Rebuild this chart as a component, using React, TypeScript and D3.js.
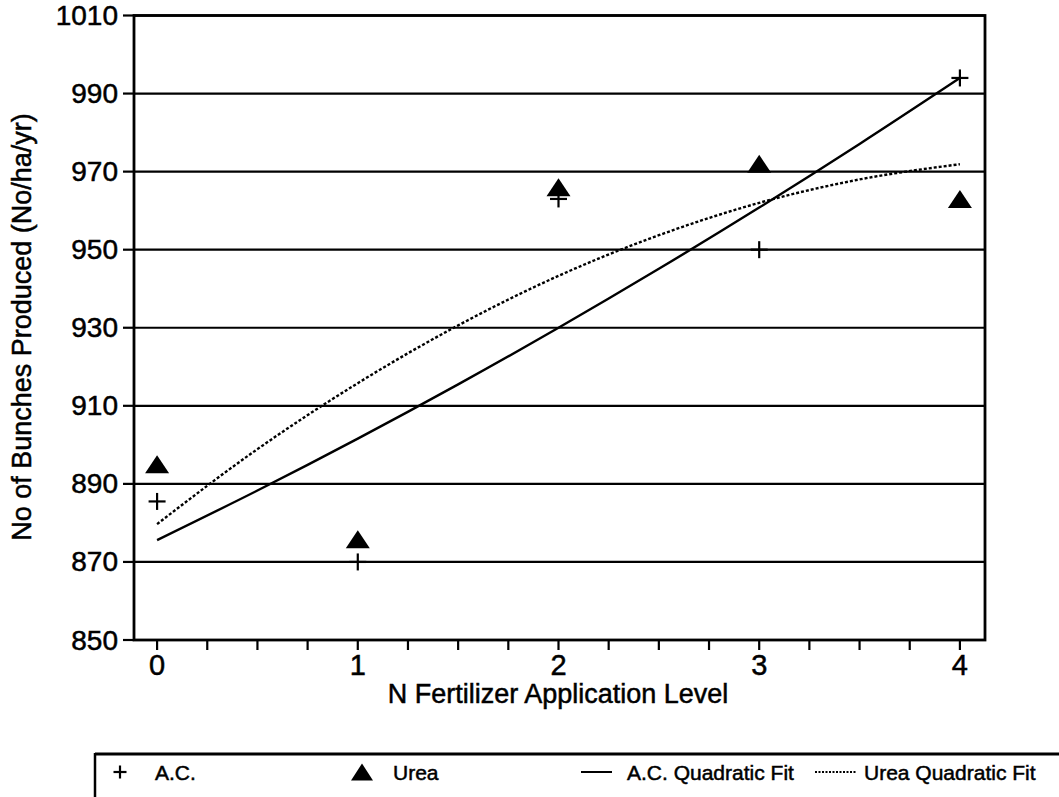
import * as d3 from "d3";

// N fertilizer application level
const levels = [0, 1, 2, 3, 4];
// observed bunches produced (No/ha/yr)
const acValues = [885.5, 870, 963, 950, 994];
const ureaValues = [895, 875.8, 966, 972, 963];

// fitted curves at half-level steps
const fitLevels = [0, 0.5, 1, 1.5, 2, 2.5, 3, 3.5, 4];
const acFit = [875.6, 888.3, 901.6, 915.5, 930, 945.1, 960.8, 977.1, 994];
const ureaFit = [879.7, 898.9, 915.8, 930.6, 943.3, 953.7, 962, 968, 971.9];

const yTicks = [850, 870, 890, 910, 930, 950, 970, 990, 1010];
const xTicks = [0, 1, 2, 3, 4];
const xMinorTicks = d3.range(0, 4.01, 0.25);

const legendItems = ["A.C.", "Urea", "A.C. Quadratic Fit", "Urea Quadratic Fit"];

export default function App() {
  const width = 1059;
  const height = 797;
  const left = 134;
  const right = 985;
  const top = 15.5;
  const bottom = 640;

  const x = d3.scaleLinear().domain([-0.115, 4.125]).range([left, right]);
  const y = d3.scaleLinear().domain([850, 1010]).range([bottom, top]);

  const line = d3
    .line<number>()
    .x((_, i) => x(fitLevels[i]))
    .y((d) => y(d))
    .curve(d3.curveMonotoneX);

  const sans = { fontFamily: "Liberation Sans, Arial, Helvetica, sans-serif" };

  const label = (
    key: string,
    tx: number,
    ty: number,
    size: number,
    text: string | number,
    anchor: "start" | "middle" | "end" = "start",
    rotate = 0
  ) => (
    <text
      key={key}
      transform={`translate(${tx},${ty}) rotate(${rotate})`}
      textAnchor={anchor}
      dominantBaseline="central"
      style={sans}
      fontSize={size}
      fill="#000"
      stroke="#000"
      strokeWidth={0.5}
    >
      {text}
    </text>
  );

  const tri = (cx: number, cy: number, w = 24, h = 18) =>
    `M${cx - w / 2},${cy + h / 2}L${cx},${cy - h / 2}L${cx + w / 2},${cy + h / 2}Z`;

  const plus = (cx: number, cy: number, s = 8.5) => (
    <g stroke="#000" strokeWidth={2.2}>
      <line x1={cx - s} x2={cx + s} y1={cy} y2={cy} />
      <line x1={cx} x2={cx} y1={cy - s} y2={cy + s} />
    </g>
  );

  return (
    <svg
      width={width}
      height={height}
      style={{ position: "absolute", left: 0, top: 0, background: "white" }}
    >
      <rect width={width} height={height} fill="white" />

      {/* gridlines */}
      {yTicks.map((t) => (
        <line key={"g" + t} x1={left} x2={right} y1={y(t)} y2={y(t)} stroke="#000" strokeWidth={2.2} />
      ))}

      {/* frame */}
      <rect x={left} y={top} width={right - left} height={bottom - top} fill="none" stroke="#000" strokeWidth={2.8} />

      {/* y axis ticks and labels */}
      {yTicks.map((t) => (
        <g key={"y" + t}>
          <line x1={left - 11} x2={left} y1={y(t)} y2={y(t)} stroke="#000" strokeWidth={2.2} />
          {label("yl" + t, 118, y(t), 28, t, "end")}
        </g>
      ))}

      {/* x axis ticks */}
      {xMinorTicks.map((t) => (
        <line key={"x" + t} x1={x(t)} x2={x(t)} y1={bottom} y2={bottom + 10} stroke="#000" strokeWidth={2.2} />
      ))}
      {xTicks.map((t) => label("xl" + t, x(t), 665, 29, t, "middle"))}

      {label("xt", 558, 694, 27, "N Fertilizer Application Level", "middle")}
      {label("yt", 22, 327, 27, "No of Bunches Produced (No/ha/yr)", "middle", -90)}

      {/* fitted curves */}
      <path d={line(acFit) ?? ""} fill="none" stroke="#000" strokeWidth={2.4} />
      <path d={line(ureaFit) ?? ""} fill="none" stroke="#000" strokeWidth={2.4} strokeDasharray="3 2" />

      {/* observed points */}
      {levels.map((l, i) => (
        <path key={"u" + l} d={tri(x(l), y(ureaValues[i]))} fill="#000" />
      ))}
      {levels.map((l, i) => (
        <g key={"a" + l}>{plus(x(l), y(acValues[i]))}</g>
      ))}

      {/* legend */}
      <line x1={95} x2={width} y1={754} y2={754} stroke="#000" strokeWidth={3} />
      <line x1={95} x2={95} y1={753} y2={height} stroke="#000" strokeWidth={2.5} />
      {plus(120, 772, 6.5)}
      <path d={tri(362, 772, 22, 17)} fill="#000" />
      <line x1={581} x2={612} y1={772} y2={772} stroke="#000" strokeWidth={2} />
      <line x1={815} x2={856} y1={772} y2={772} stroke="#000" strokeWidth={2} strokeDasharray="2 1.5" />
      {legendItems.map((t, i) => label("lg" + i, [155, 393, 627, 864][i], 772, 21, t, "start"))}
    </svg>
  );
}
